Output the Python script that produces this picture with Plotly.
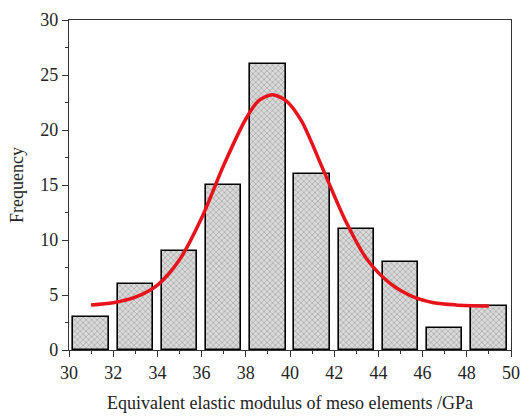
import plotly.graph_objects as go

# Histogram data
bin_centers = [31, 33, 35, 37, 39, 41, 43, 45, 47, 49]
frequency = [3, 6, 9, 15, 26, 16, 11, 8, 2, 4]

# Fitted curve
fit_x = [31.0, 32.0, 33.0, 34.0, 35.0, 36.0, 37.0, 38.0, 38.6, 39.2, 39.8, 40.5, 41.5, 42.5, 43.5, 44.5, 45.5, 46.5, 47.5, 49.0]
fit_y = [4.1, 4.3, 4.8, 5.9, 8.2, 12.0, 16.8, 21.0, 22.7, 23.2, 22.7, 20.9, 16.4, 11.8, 8.2, 6.1, 4.9, 4.3, 4.1, 4.0]

x_ticks = list(range(30, 51, 2))
y_ticks = list(range(0, 31, 5))

FONT = "Liberation Serif, Times New Roman, serif"

fig = go.Figure()
fig.add_trace(go.Bar(
    x=bin_centers, y=frequency, width=1.6,
    marker=dict(
        color="#d0d0d0",
        line=dict(color="black", width=1.6),
        pattern=dict(shape="x", size=4, fgcolor="#7a7a7a", bgcolor="#dadada", solidity=0.35),
    ),
    showlegend=False,
))
fig.add_trace(go.Scatter(
    x=fit_x, y=fit_y, mode="lines",
    line=dict(color="#e8121a", width=3.5, shape="spline", smoothing=0.8),
    showlegend=False,
))

fig.update_layout(
    width=530, height=419,
    margin=dict(l=69, r=10, t=15, b=68),
    plot_bgcolor="white", paper_bgcolor="white",
    font=dict(family=FONT, size=18, color="#222"),
    bargap=0,
)
fig.update_xaxes(
    range=[30, 50], tickvals=x_ticks, ticktext=[str(v) for v in x_ticks],
    showline=True, linecolor="#333", linewidth=1.2, mirror=True,
    ticks="outside", ticklen=6, tickcolor="#333",
    minor=dict(ticks="outside", ticklen=3, dtick=1, tickcolor="#333"),
    showgrid=False, zeroline=False,
    title=dict(text="Equivalent elastic modulus of meso elements /GPa", font=dict(size=18), standoff=14),
    tickfont=dict(size=18),
)
fig.update_yaxes(
    range=[0, 30], tickvals=y_ticks, ticktext=[str(v) for v in y_ticks],
    showline=True, linecolor="#333", linewidth=1.2, mirror=True,
    ticks="outside", ticklen=6, tickcolor="#333",
    minor=dict(ticks="outside", ticklen=3, dtick=2.5, tickcolor="#333"),
    showgrid=False, zeroline=False,
    title=dict(text="Frequency", font=dict(size=18), standoff=11),
    tickfont=dict(size=18),
)

fig.write_html("out.html")
